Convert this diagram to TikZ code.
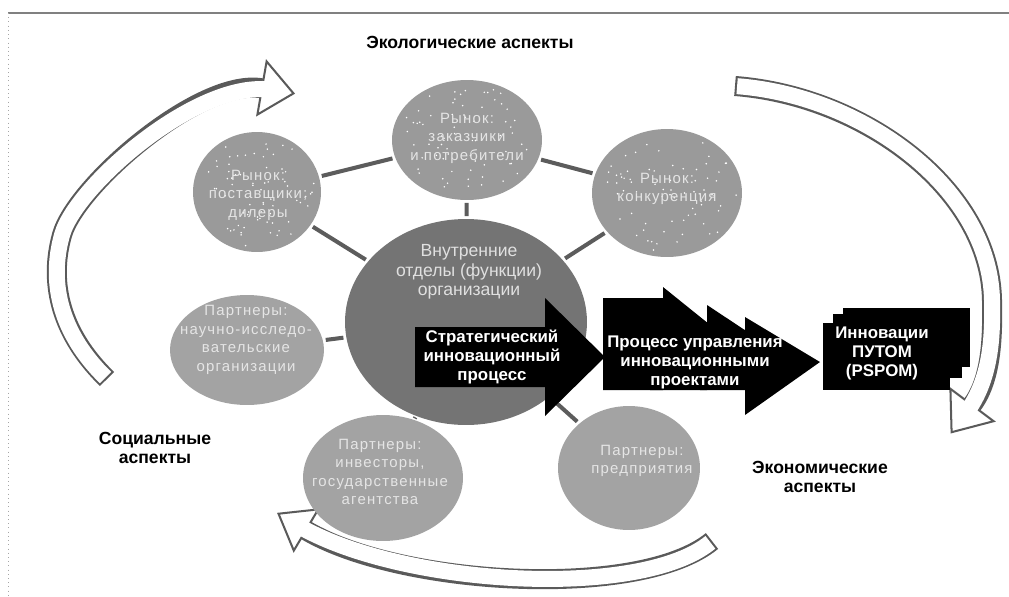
\documentclass[tikz,border=0pt]{standalone}
\usepackage{fontspec}
\setmainfont{Liberation Sans}
\newfontfamily\bubblefont{Liberation Sans}[LetterSpace=8]
\usetikzlibrary{shapes.geometric,calc}
\definecolor{speckgray}{HTML}{9A9A9A}
\definecolor{partgray}{HTML}{A3A3A3}
\definecolor{coregray}{HTML}{747474}
\definecolor{linkgray}{HTML}{5C5C5C}
\definecolor{rimgray}{HTML}{5A5A5A}

\begin{document}
\begin{tikzpicture}[
    x=0.02cm, y=-0.02cm,
    bub/.style={ellipse,inner sep=0pt,fill=#1},
    btxt/.style={align=center,inner sep=0pt,text=white!90!black,font=\bubblefont\fontsize{8.5}{10.5}\selectfont},
    wtxt/.style={align=center,inner sep=0pt,text=white,font=\bfseries\fontsize{9.6}{10.8}\selectfont},
    aspect/.style={align=center,inner sep=0pt,font=\bfseries\fontsize{10}{11.3}\selectfont},
    link/.style={draw=linkgray,line width=2.3pt,shorten <=1.5pt,shorten >=1.5pt},
    bandout/.style={draw=rimgray,line width=11.4pt},
    bandin/.style={draw=white,line width=9.1pt},
    head/.style={draw=rimgray,fill=white,line width=1.15pt,line join=miter},
    blk/.style={fill=black},
]
\useasboundingbox (0,0) rectangle (1009,596);
% page frame
\draw[gray,line width=1.6pt] (8,13) -- (1009,13);
\draw[gray!70,dotted] (8,13) -- (8,596);

% hollow arrows round the picture
\draw[bandout,shorten >=6pt] (107,379) .. controls (62,335) and (48,285) .. (62,235)
    .. controls (76,185) and (200,78) .. (272,90);
\draw[head] (266.6,61.4) -- (293.5,93.4) -- (257.4,114.6) -- cycle;
\draw[bandin,shorten <=1.2pt] (107,379) .. controls (62,335) and (48,285) .. (62,235)
    .. controls (76,185) and (200,78) .. (272,90);

\draw[bandout,shorten >=6pt] (735,86) .. controls (865,96) and (990,190) .. (992,300)
    .. controls (992.5,330) and (993,377) .. (966,413);
\draw[head] (993.6,421.2) -- (951.6,432.2) -- (950.4,388.8) -- cycle;
\draw[bandin,shorten <=1.2pt] (735,86) .. controls (865,96) and (990,190) .. (992,300)
    .. controls (992.5,330) and (993,377) .. (966,413);

\draw[bandout,shorten >=6pt] (712,541) .. controls (640,600) and (400,586) .. (297,525);
\draw[head] (318.2,509.4) -- (278.5,513.7) -- (293.8,550.6) -- cycle;
\draw[bandin,shorten <=1.2pt] (712,541) .. controls (640,600) and (400,586) .. (297,525);

% bubbles
\node[bub=speckgray,minimum width=2.56cm,minimum height=2.4cm] (sup) at (257,192) {};
\node[bub=speckgray,minimum width=3cm,minimum height=2.4cm] (cust) at (467,140) {};
\node[bub=speckgray,minimum width=3cm,minimum height=2.56cm] (comp) at (667,193) {};
\node[bub=partgray,minimum width=3.08cm,minimum height=2.2cm] (sci) at (247,350) {};
\node[bub=partgray,minimum width=3.2cm,minimum height=2.52cm] (inv) at (383,478) {};
\node[bub=partgray,minimum width=2.84cm,minimum height=2.48cm] (ent) at (629,468) {};
\node[bub=coregray,minimum width=4.84cm,minimum height=4.12cm] (core) at (466,322) {};

\pgfmathsetseed{11}
\foreach \n/\rx/\ry in {sup/62/58,cust/73/58,comp/73/62}
  \foreach \k in {1,...,70}{
    \pgfmathsetmacro\ang{360*rnd}
    \pgfmathsetmacro\rad{0.95*sqrt(rnd)}
    \fill[white] ($(\n)+({\rad*\rx*cos(\ang)},{\rad*\ry*sin(\ang)})$) circle[radius=0.85];
  }

\draw[link] (sup) -- (cust);
\draw[link] (cust) -- (comp);
\draw[link] (sup) -- (core);
\draw[link] (cust) -- (core);
\draw[link] (comp) -- (core);
\draw[link] (sci) -- (core);
\draw[link] (inv) -- (core);
\draw[link] (ent) -- (core);

\node[btxt] (supt) at (258,195) {Рынок:\\поставщики;\\дилеры};
\node[btxt] (custt) at (467,138) {Рынок:\\заказчики\\и потребители};
\node[btxt] (compt) at (667,189) {Рынок:\\конкуренция};
\node[btxt] (scit) at (246,340) {Партнеры:\\научно-исследо-\\вательские\\организации};
\node[btxt] (invt) at (380,472) {Партнеры:\\инвесторы,\\государственные\\агентства};
\node[btxt] (entt) at (642,461) {Партнеры:\\предприятия};
\node[align=center,inner sep=0pt,text=white!88!black,font=\fontsize{10}{11}\selectfont] (coret) at (469,272)
    {Внутренние\\отделы (функции)\\организации};

% black arrows
\fill[blk] (415,327) -- (545,327) -- (545,298) -- (605,357) -- (545,416) -- (545,387) -- (415,387) -- cycle;
\fill[blk] (603,298) -- (663,298) -- (663,287) -- (735,345) -- (663,390) -- (603,390) -- cycle;
\fill[blk] (650,340) -- (707,340) -- (707,305) -- (778,352) -- (707,390) -- (650,390) -- cycle;
\fill[blk] (700,350) -- (745,350) -- (745,317) -- (820,362) -- (745,415) -- (745,390) -- (700,390) -- cycle;
\fill[blk] (823,323) rectangle (950,390);
\fill[blk] (833,314) rectangle (962,378);
\fill[blk] (843,308) rectangle (970,367);

\node[wtxt] (strat) at (492,357) {Стратегический\\инновационный\\процесс};
\node[wtxt] (pm) at (695,362) {Процесс управления\\инновационными\\проектами};
\node[wtxt] (innov) at (882,353) {Инновации\\ПУТОМ\\(PSPOM)};

% aspects
\node[aspect] (eco) at (470,42) {Экологические аспекты};
\node[aspect] (soc) at (155,448) {Социальные\\аспекты};
\node[aspect] (econ) at (820,477) {Экономические\\аспекты};
\end{tikzpicture}
\end{document}
